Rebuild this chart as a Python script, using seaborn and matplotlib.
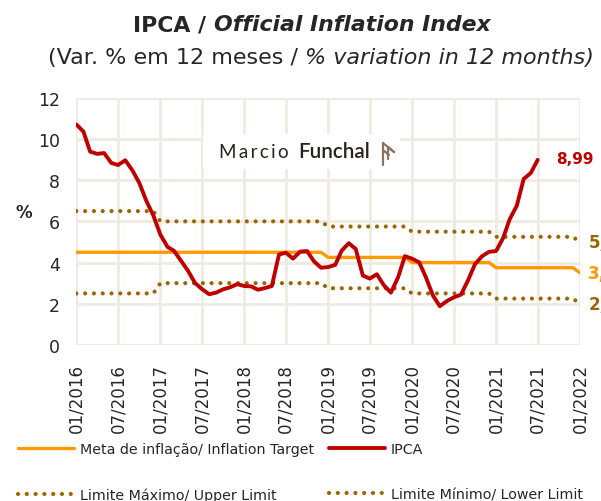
import matplotlib
matplotlib.use('Agg')
import matplotlib.pyplot as plt
import matplotlib.dates as mdates
from matplotlib.lines import Line2D
import seaborn as sns
import numpy as np
import pandas as pd

# IPCA, 12-month variation (%), Jan/2016 .. Jul/2021
ipca = [10.71, 10.36, 9.39, 9.28, 9.32, 8.84, 8.74, 8.97, 8.48, 7.87, 6.99, 6.29,
        5.35, 4.76, 4.57, 4.08, 3.60, 3.00, 2.71, 2.46, 2.54, 2.70, 2.80, 2.95,
        2.86, 2.84, 2.68, 2.76, 2.86, 4.39, 4.48, 4.19, 4.53, 4.56, 4.05, 3.75,
        3.78, 3.89, 4.58, 4.94, 4.66, 3.37, 3.22, 3.43, 2.89, 2.54, 3.27, 4.31,
        4.19, 4.01, 3.30, 2.40, 1.88, 2.13, 2.31, 2.44, 3.14, 3.92, 4.31, 4.52,
        4.56, 5.20, 6.10, 6.76, 8.06, 8.35, 8.99]

# yearly inflation target and tolerance band, 2016 .. 2021 (+ Jan/2022)
years = [2016, 2017, 2018, 2019, 2020, 2021]
target = [4.5, 4.5, 4.5, 4.25, 4.0, 3.75]
upper = [6.5, 6.0, 6.0, 5.75, 5.5, 5.25]
lower = [2.5, 3.0, 3.0, 2.75, 2.5, 2.25]
target_2022, upper_2022, lower_2022 = 3.5, 5.0, 2.0

months = pd.date_range('2016-01-01', '2022-01-01', freq='MS')
band = pd.DataFrame({
    'date': months,
    'target': list(np.repeat(target, 12)) + [target_2022],
    'upper': list(np.repeat(upper, 12)) + [upper_2022],
    'lower': list(np.repeat(lower, 12)) + [lower_2022],
})
ipca_df = pd.DataFrame({'date': months[:len(ipca)], 'ipca': ipca})

ORANGE = '#FF9900'
RED = '#C00000'
BROWN = '#9C6500'
GRID = '#EEEBE0'
LOGO = '#2b211c'

sns.set_theme(style='white')
plt.rcParams['font.family'] = ['DejaVu Sans']

fig = plt.figure(figsize=(6.01, 5.02), dpi=100)
ax = fig.add_axes([0.127, 0.311, 0.838, 0.492])

dots = (0, (0.01, 2.1))
sns.lineplot(data=band, x='date', y='upper', ax=ax, color=BROWN, lw=3.0,
             linestyle=dots, dash_capstyle='round', label='Limite Máximo/ Upper Limit')
sns.lineplot(data=band, x='date', y='lower', ax=ax, color=BROWN, lw=3.0,
             linestyle=dots, dash_capstyle='round', label='Limite Mínimo/ Lower Limit')
sns.lineplot(data=band, x='date', y='target', ax=ax, color=ORANGE, lw=2.4,
             label='Meta de inflação/ Inflation Target')
sns.lineplot(data=ipca_df, x='date', y='ipca', ax=ax, color=RED, lw=2.8,
             label='IPCA')

ax.set_xlim(months[0], months[-1])
ax.set_ylim(0, 12)
ax.set_yticks(range(0, 13, 2))
ax.xaxis.set_major_locator(mdates.MonthLocator(bymonth=[1, 7]))
ax.xaxis.set_major_formatter(mdates.DateFormatter('%m/%Y'))
ax.tick_params(axis='x', labelrotation=90, labelsize=12, pad=13, length=0)
ax.tick_params(axis='y', labelsize=12.5, pad=12, length=0)
ax.grid(True, color=GRID, lw=2)
ax.set_axisbelow(True)
for s in ax.spines.values():
    s.set_visible(False)
ax.set_xlabel('')
ax.set_ylabel('%', rotation=0, fontsize=12, fontweight='bold')
ax.yaxis.set_label_coords(-0.105, 0.5)

# end labels
ax.annotate(f'{ipca[-1]:.2f}'.replace('.', ','), (ipca_df['date'].iloc[-1], ipca[-1]),
            xytext=(13, 1), textcoords='offset points', color=RED,
            fontsize=11, fontweight='bold', va='center')
for col, c in [('upper', BROWN), ('target', ORANGE), ('lower', BROWN)]:
    v = band[col].iloc[-1]
    ax.annotate(f'{v:.2f}'.replace('.', ','), (band['date'].iloc[-1], v),
                xytext=(6, 0), textcoords='offset points', color=c,
                fontsize=12, fontweight='bold', va='center', annotation_clip=False)

# watermark: white box hides the grid, logo text on top of it
H = 502
ax.set_zorder(1)
ax.patch.set_alpha(0)
fig.patches.append(plt.Rectangle((203, H - 170), 197, 35, transform=None,
                                 fc='white', ec='none', zorder=1.5, figure=fig))
fig.text(219 / 601, 1 - 158 / H, 'M\u2009a\u2009r\u2009c\u2009i\u2009o',
         fontsize=13.5, family=['Lato', 'DejaVu Sans'], color=LOGO,
         va='baseline', ha='left', zorder=3)
fig.text(298 / 601, 1 - 158 / H, 'Funchal', fontsize=14.8, family='Lato',
         fontweight='semibold', color=LOGO, va='baseline', ha='left', zorder=3)
for (x0, y0, x1, y1) in [(383, 144, 383, 166), (388, 148, 388, 160),
                         (383, 144, 394, 153), (388, 148, 394, 153),
                         (383, 151, 389, 156)]:
    fig.lines.append(Line2D([x0, x1], [H - y0, H - y1], transform=None,
                            color='#8a7265', lw=1.6, figure=fig, zorder=3))

# titles, mixed styles on one line
fig.canvas.draw()
r = fig.canvas.get_renderer()


def two_part(y, left, right, size, lkw, rkw, cx):
    a = fig.text(0, y, left, fontsize=size, va='center', **lkw)
    b = fig.text(0, y, right, fontsize=size, va='center', **rkw)
    wa = a.get_window_extent(r).width
    wb = b.get_window_extent(r).width
    start = cx - (wa + wb) / 2
    a.set_x(start / 601)
    b.set_x((start + wa) / 601)


two_part(0.95, 'IPCA / ', 'Official Inflation Index', 15.8,
         dict(fontweight='bold'), dict(fontweight='bold', style='italic'), 312)
two_part(0.885, '(Var. % em 12 meses / ', '% variation in 12 months)', 16,
         dict(), dict(style='italic'), 321)

handles, labels = ax.get_legend_handles_labels()
order = [2, 0, 3, 1]
ax.legend([handles[i] for i in order], [labels[i] for i in order], ncol=2,
          loc='upper left', bbox_to_anchor=(-0.127, -0.372), frameon=False,
          fontsize=10.3, handlelength=3.9, handletextpad=0.45, columnspacing=1.0,
          labelspacing=2.15, borderaxespad=0)

fig.savefig('out.png', dpi=100)
